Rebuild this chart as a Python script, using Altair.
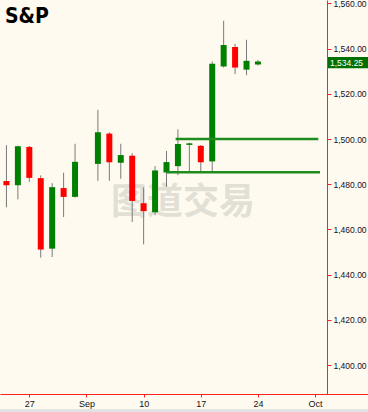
import altair as alt
import pandas as pd

# Daily S&P futures candles, Aug 23 - Sep 24 (weekday slots; slot 7 = Labor Day, no session)
session_date = ["08-23", "08-24", "08-27", "08-28", "08-29", "08-30", "08-31",
                "09-04", "09-05", "09-06", "09-07", "09-10", "09-11", "09-12",
                "09-13", "09-14", "09-17", "09-18", "09-19", "09-20", "09-21", "09-24"]
slot = [0, 1, 2, 3, 4, 5, 6, 8, 9, 10, 11, 12, 13, 14, 15, 16, 17, 18, 19, 20, 21, 22]
open_ = [1481.4, 1479.6, 1496.5, 1482.7, 1451.5, 1478.3, 1474.4, 1489.0, 1502.4, 1489.5, 1492.6,
         1471.6, 1467.6, 1485.2, 1488.0, 1497.4, 1497.0, 1490.1, 1532.1, 1540.7, 1530.7, 1533.0]
high = [1497.3, 1497.1, 1496.9, 1483.9, 1480.5, 1485.1, 1497.9, 1512.9, 1503.0, 1497.9, 1493.7,
        1478.6, 1488.0, 1494.7, 1504.3, 1498.4, 1497.3, 1534.3, 1552.3, 1542.1, 1543.9, 1535.0]
low = [1469.8, 1473.3, 1481.1, 1447.5, 1447.8, 1465.5, 1474.1, 1481.5, 1481.5, 1482.4, 1463.3,
       1453.4, 1466.3, 1478.8, 1484.0, 1485.5, 1485.5, 1485.5, 1531.6, 1528.7, 1528.2, 1532.5]
close = [1479.6, 1496.8, 1482.8, 1451.1, 1478.7, 1474.4, 1489.9, 1503.0, 1489.7, 1492.9, 1472.6,
         1468.1, 1486.1, 1489.8, 1497.8, 1498.1, 1489.7, 1533.3, 1541.6, 1531.6, 1534.6, 1534.25]

# Horizontal support / resistance levels
level_price = [1500.0, 1485.3]
level_start = [14.8, 14.0]
level_end = [27.28, 27.43]

# Axis ticks
tick_slots = [2, 7, 12, 17, 22, 27]
tick_labels = ["27", "Sep", "10", "17", "24", "Oct"]
price_ticks = [1400, 1420, 1440, 1460, 1480, 1500, 1520, 1540, 1560]

GREEN = "#008000"
RED = "#ff0000"
AXIS_RED = "#ff2020"
BG = "#fffaef"
FONT = "Liberation Sans"

candles = pd.DataFrame(dict(date=session_date, slot=slot, open=open_, high=high,
                            low=low, close=close))
levels = pd.DataFrame(dict(price=level_price, start=level_start, end=level_end))

x_scale = alt.Scale(domain=[-0.564, 28.04], nice=False, zero=False, padding=0)
y_scale = alt.Scale(domain=[1387.2, 1561.5], nice=False, zero=False, padding=0)

label_expr = ""
for s, lab in zip(tick_slots, tick_labels):
    label_expr += f"datum.value == {s} ? '{lab}' : "
label_expr += "''"

x_axis = alt.Axis(values=tick_slots, labelExpr=label_expr, title=None, grid=False,
                  domainColor=AXIS_RED, tickColor=AXIS_RED, tickSize=3,
                  labelFont=FONT, labelFontSize=9, labelColor="#111111",
                  labelPadding=2, labelFlush=False)
y_axis = alt.Axis(orient="right", values=price_ticks, format=",.2f", title=None, grid=False,
                  domainColor=AXIS_RED, tickColor=AXIS_RED, tickSize=4,
                  labelFont=FONT, labelFontSize=8.5, labelColor="#10102a",
                  labelPadding=2, labelFlush=False)

watermark = alt.Chart(pd.DataFrame({"t": ["图道交易"]})).mark_text(
    font="Noto Sans CJK SC", fontSize=36, fontWeight="bold", color="#e2dfd6",
    align="center", baseline="middle"
).encode(x=alt.value(183), y=alt.value(203), text="t:N")

wicks = alt.Chart(candles).mark_rule(color="#7a7a7a", strokeWidth=1).encode(
    x=alt.X("slot:Q", scale=x_scale, axis=x_axis),
    y=alt.Y("low:Q", scale=y_scale, axis=y_axis),
    y2="high:Q",
)

bodies = alt.Chart(candles).mark_bar(size=6).encode(
    x=alt.X("slot:Q", scale=x_scale),
    y=alt.Y("open:Q", scale=y_scale),
    y2="close:Q",
    color=alt.when(alt.datum.close >= alt.datum.open)
    .then(alt.value(GREEN))
    .otherwise(alt.value(RED)),
)

level_lines = alt.Chart(levels).mark_rule(color="#1e8c1e", strokeWidth=2.5).encode(
    x=alt.X("start:Q", scale=x_scale),
    x2="end:Q",
    y=alt.Y("price:Q", scale=y_scale),
)

last = pd.DataFrame({"price": [close[-1]]})
tag_box = alt.Chart(last).transform_calculate(
    lo="datum.price - 2.9", hi="datum.price + 2.0"
).mark_rect(color="#007000").encode(
    x=alt.value(328), x2=alt.value(368),
    y=alt.Y("lo:Q", scale=y_scale), y2="hi:Q",
)
tag_text = alt.Chart(last).transform_calculate(
    label="format(datum.price, ',.2f')", mid="datum.price - 0.45"
).mark_text(font=FONT, fontSize=8.5, color="#ffffff", align="left", baseline="middle").encode(
    x=alt.value(330), y=alt.Y("mid:Q", scale=y_scale), text="label:N",
)

title = alt.Chart(pd.DataFrame({"t": ["S&P"]})).mark_text(
    font='"Liberation Sans Narrow", "DejaVu Sans Condensed", "Liberation Sans", sans-serif',
    fontSize=21, fontWeight="bold", color="#000000", align="left", baseline="top"
).encode(x=alt.value(5), y=alt.value(6), text="t:N")

# x-axis baseline continues under the price scale; scrollbar strip at the bottom
baseline = alt.Chart(pd.DataFrame({"a": [0]})).mark_rule(color=AXIS_RED, strokeWidth=1).encode(
    x=alt.value(327), x2=alt.value(368), y=alt.value(394.5)
)
strip = alt.Chart(pd.DataFrame({"a": [0]})).mark_rect(color="#e3e3e3").encode(
    x=alt.value(0), x2=alt.value(368), y=alt.value(409), y2=alt.value(412)
)

chart = alt.layer(
    watermark, wicks, bodies, level_lines, tag_box, tag_text, title, baseline, strip
).properties(
    width=327, height=394,
    autosize=alt.AutoSizeParams(type="none"),
    padding={"left": 0, "top": 0, "right": 41, "bottom": 18},
    background=BG,
).configure_view(stroke=None)

chart.save("out.html", embed_options={"renderer": "svg", "actions": False})
